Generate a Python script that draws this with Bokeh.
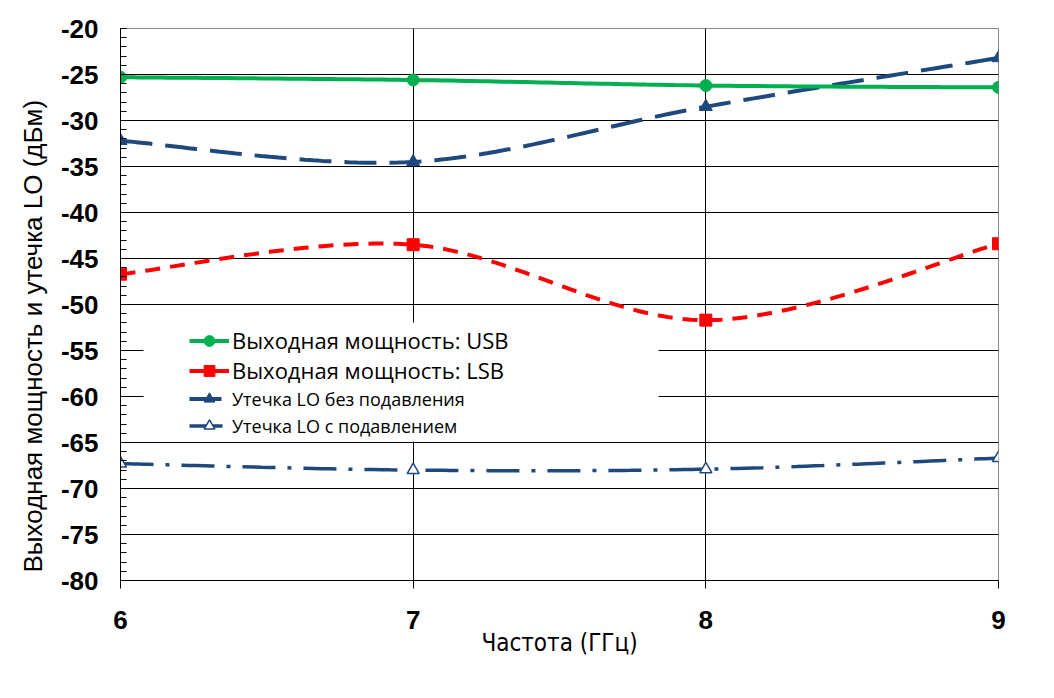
import numpy as np
from bokeh.plotting import figure
from bokeh.models import (Legend, LegendItem, FixedTicker, BoxAnnotation, Range1d,
                          PrintfTickFormatter, Title)
from bokeh.embed import file_html
from bokeh.resources import INLINE

# ---- data ----
freq = [6, 7, 8, 9]
usb = [-25.3, -25.6, -26.2, -26.4]          # Выходная мощность: USB
lsb = [-46.7, -43.5, -51.7, -43.4]          # Выходная мощность: LSB
lo_raw = [-32.2, -34.5, -28.5, -23.2]       # Утечка LO без подавления
lo_sup = [-67.3, -68.0, -67.9, -66.7]       # Утечка LO с подавлением
x_ticks = [6, 7, 8, 9]
y_ticks = list(range(-80, -15, 5))

names = ["Выходная мощность: USB", "Выходная мощность: LSB",
         "Утечка LO без подавления", "Утечка LO с подавлением"]
x_label = "Частота (ГГц)"
y_label = "Выходная мощность и утечка LO (дБм)"


def smooth(xs, ys, n=40):
    """Excel-style smoothed line through the points (cubic Bezier)."""
    P = np.column_stack([xs, ys]).astype(float)
    m = len(P)
    out = []
    for i in range(m - 1):
        p0 = P[i - 1] if i > 0 else P[i]
        p1, p2 = P[i], P[i + 1]
        p3 = P[i + 2] if i + 2 < m else P[i + 1]
        c1 = p1 + (p2 - p0) / 6.0
        c2 = p2 - (p3 - p1) / 6.0
        t = np.linspace(0, 1, n)[:, None]
        seg = ((1 - t) ** 3) * p1 + 3 * ((1 - t) ** 2) * t * c1 + 3 * (1 - t) * t ** 2 * c2 + t ** 3 * p2
        if i > 0:
            seg = seg[1:]
        out.append(seg)
    a = np.vstack(out)
    return a[:, 0], a[:, 1]


p = figure(frame_width=878, frame_height=552, output_backend="svg", toolbar_location=None,
           x_range=Range1d(6, 9), y_range=Range1d(-80, -20),
           min_border_left=120, min_border_top=28, min_border_right=30, min_border_bottom=60)
p.background_fill_color = "white"
p.border_fill_color = "white"
p.outline_line_color = "#888888"
p.outline_line_width = 1

# grids
p.xgrid.ticker = FixedTicker(ticks=[7, 8])
p.ygrid.ticker = FixedTicker(ticks=y_ticks[1:-1])
p.xgrid.grid_line_color = "black"
p.ygrid.grid_line_color = "black"
p.xgrid.grid_line_width = 1
p.ygrid.grid_line_width = 1

# axes
p.xaxis.ticker = FixedTicker(ticks=x_ticks)
p.yaxis.ticker = FixedTicker(ticks=y_ticks, minor_ticks=list(range(-80, -19, 1)))
p.xaxis.formatter = PrintfTickFormatter(format="%d")
p.yaxis.formatter = PrintfTickFormatter(format="%d")
for ax in (p.xaxis[0], p.yaxis[0]):
    ax.axis_line_color = "black"
    ax.major_tick_line_color = "black"
    ax.minor_tick_line_color = "black"
    ax.major_label_text_font = "Liberation Sans"
    ax.major_label_text_font_style = "bold"
    ax.major_label_text_font_size = "26px"
    ax.major_label_text_color = "black"
    ax.axis_label_text_font_style = "normal"
    ax.axis_label_text_color = "black"

p.xaxis.major_tick_in = 0
p.xaxis.major_tick_out = 8
p.xaxis.minor_tick_in = 0
p.xaxis.minor_tick_out = 0
p.xaxis.major_label_standoff = 22
p.xaxis.axis_label = x_label
p.xaxis.axis_label_text_font = "DejaVu Sans Condensed"
p.xaxis.axis_label_text_font_size = "24px"
p.xaxis.axis_label_standoff = -3

p.yaxis.major_tick_in = 6
p.yaxis.major_tick_out = 0
p.yaxis.minor_tick_in = 6
p.yaxis.minor_tick_out = 0
p.yaxis.major_label_standoff = 22

# y axis title (placed lower than centre, as in the reference)
p.add_layout(Title(text=y_label, align="left", offset=8, standoff=20,
                   text_font="Liberation Sans", text_font_size="26px",
                   text_font_style="normal", text_color="black"), "left")

# white area behind the legend
p.add_layout(BoxAnnotation(left=23, right=538, top=258, bottom=139,
                           left_units="screen", right_units="screen",
                           top_units="screen", bottom_units="screen",
                           fill_color="white", fill_alpha=1.0, line_color=None,
                           level="underlay"))

GREEN = "#00B050"
RED = "#FF0000"
NAVY = "#1F497D"

xs, ys = smooth(freq, lo_sup)
l4 = p.line(xs, ys, line_color=NAVY, line_width=3.5, line_dash="33 12 4 12")
s4 = p.scatter(freq, lo_sup, marker="triangle", size=12, fill_color="white",
               line_color=NAVY, line_width=1.5)

xs, ys = smooth(freq, lsb)
l2 = p.line(xs, ys, line_color=RED, line_width=4, line_dash="15 10")
s2 = p.scatter(freq, lsb, marker="square", size=12, fill_color=RED, line_color=RED)

xs, ys = smooth(freq, lo_raw)
l3 = p.line(xs, ys, line_color=NAVY, line_width=4, line_dash="32 13")
s3 = p.scatter(freq, lo_raw, marker="triangle", size=13, fill_color=NAVY, line_color=NAVY)

xs, ys = smooth(freq, usb)
l1 = p.line(xs, ys, line_color=GREEN, line_width=4)
s1 = p.scatter(freq, usb, marker="circle", size=12, fill_color=GREEN, line_color=GREEN)


def make_legend(items, loc, size):
    lg = Legend(items=items, location=loc, padding=0, spacing=0, margin=0,
                glyph_width=40, glyph_height=27, label_height=27, label_standoff=3,
                label_text_font="Open Sans", label_text_font_size=size,
                label_text_color="black", background_fill_alpha=0,
                border_line_color=None)
    return lg

leg1 = make_legend([LegendItem(label=names[0], renderers=[l1, s1]),
                    LegendItem(label=names[1], renderers=[l2, s2])], (69, 195), "22px")
leg2 = make_legend([LegendItem(label=names[2], renderers=[l3, s3]),
                    LegendItem(label=names[3], renderers=[l4, s4])], (69, 141), "18px")
p.add_layout(leg1, "center")
p.add_layout(leg2, "center")

open("out.html", "w").write(file_html(p, INLINE))
